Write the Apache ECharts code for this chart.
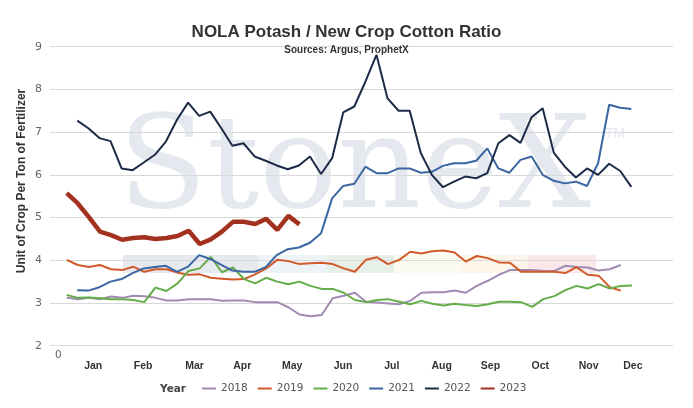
<!DOCTYPE html>
<html>
<head>
<meta charset="utf-8">
<script src="https://cdn.jsdelivr.net/npm/echarts@6/dist/echarts.min.js"></script>
<style>
  html, body { margin: 0; padding: 0; background: #fff; }
  #chart { width: 693px; height: 408px; }
</style>
</head>
<body>
<div id="chart"></div>
<script>
// weekly ratio values
var years = ['2018', '2019', '2020', '2021', '2022', '2023'];
var colors = ['#a08bb3', '#d2592a', '#63ad48', '#3b66a2', '#1c2b46', '#a3311f'];

// first week of each series on the x axis (weeks from 0)
var startWeek = [0.76, 0.76, 0.76, 1.71, 1.71, 0.76];

var v2018 = [3.13, 3.09, 3.12, 3.09, 3.15, 3.12, 3.17, 3.16, 3.12, 3.06, 3.06, 3.09, 3.09, 3.09, 3.05,
  3.06, 3.06, 3.02, 3.02, 3.02, 2.90, 2.73, 2.69, 2.72, 3.11, 3.17, 3.24, 3.03, 3.01, 2.99,
  2.97, 3.05, 3.24, 3.25, 3.25, 3.29, 3.24, 3.40, 3.52, 3.66, 3.77, 3.77, 3.77, 3.75, 3.75,
  3.87, 3.84, 3.83, 3.76, 3.79, 3.89];
var v2019 = [4.01, 3.89, 3.84, 3.89, 3.79, 3.77, 3.85, 3.73, 3.79, 3.79, 3.71, 3.66, 3.67, 3.59, 3.57,
  3.55, 3.56, 3.67, 3.81, 4.01, 3.98, 3.91, 3.93, 3.94, 3.91, 3.81, 3.73, 4.01, 4.07, 3.91,
  4.01, 4.20, 4.16, 4.21, 4.23, 4.18, 3.97, 4.10, 4.05, 3.95, 3.94, 3.73, 3.73, 3.73, 3.73,
  3.70, 3.84, 3.66, 3.64, 3.37, 3.29];
var v2020 = [3.19, 3.12, 3.13, 3.11, 3.09, 3.09, 3.07, 3.02, 3.36, 3.28, 3.46, 3.75, 3.81, 4.08, 3.72,
  3.83, 3.56, 3.46, 3.59, 3.50, 3.44, 3.50, 3.40, 3.33, 3.33, 3.24, 3.07, 3.02, 3.07, 3.09,
  3.03, 2.97, 3.05, 2.98, 2.94, 2.98, 2.95, 2.93, 2.97, 3.03, 3.03, 3.02, 2.91, 3.09, 3.16,
  3.30, 3.40, 3.34, 3.44, 3.34, 3.40, 3.41];
var v2021 = [3.30, 3.29, 3.37, 3.50, 3.56, 3.70, 3.81, 3.84, 3.87, 3.73, 3.85, 4.12, 4.03, 3.89, 3.76,
  3.73, 3.73, 3.84, 4.12, 4.26, 4.30, 4.41, 4.63, 5.45, 5.74, 5.79, 6.19, 6.04, 6.04, 6.15,
  6.15, 6.05, 6.07, 6.21, 6.27, 6.27, 6.33, 6.62, 6.15, 6.05, 6.35, 6.43, 6.00, 5.86, 5.80,
  5.84, 5.74, 6.27, 7.64, 7.57, 7.54];
var v2022 = [7.27, 7.09, 6.86, 6.79, 6.15, 6.11, 6.29, 6.47, 6.78, 7.29, 7.69, 7.38, 7.48, 7.09, 6.68,
  6.74, 6.43, 6.33, 6.22, 6.13, 6.22, 6.43, 6.02, 6.39, 7.46, 7.60, 8.18, 8.81, 7.79, 7.50,
  7.50, 6.51, 6.00, 5.71, 5.84, 5.96, 5.92, 6.04, 6.74, 6.93, 6.75, 7.35, 7.56, 6.52, 6.19,
  5.94, 6.15, 6.00, 6.26, 6.09, 5.72];
var v2023 = [5.57, 5.33, 5.01, 4.67, 4.59, 4.48, 4.52, 4.54, 4.50, 4.52, 4.57, 4.69, 4.38, 4.49, 4.67,
  4.90, 4.90, 4.85, 4.97, 4.71, 5.04, 4.84];

var values = [v2018, v2019, v2020, v2021, v2022, v2023];

// month labels sit at these week positions
var months = ['Jan', 'Feb', 'Mar', 'Apr', 'May', 'Jun', 'Jul', 'Aug', 'Sep', 'Oct', 'Nov', 'Dec'];
var monthWeek = [3.15, 7.65, 12.3, 16.6, 21.1, 25.7, 30.1, 34.6, 39.0, 43.5, 47.85, 51.85];

var yTicks = [2, 3, 4, 5, 6, 7, 8, 9];

// watermark logo band colours
var bandColors = ['#e6e9ee', '#eef3f8', '#e7efe9', '#fafbee', '#fcf6ea', '#f9e7ea'];

var myChart = echarts.init(document.getElementById('chart'));

var series = [];
for (var s = 0; s < years.length; s++) {
    var pts = [];
    for (var i = 0; i < values[s].length; i++) {
        pts.push([startWeek[s] + i, values[s][i]]);
    }
    series.push({
        name: years[s],
        type: 'line',
        data: pts,
        showSymbol: false,
        symbol: 'none',
        silent: true,
        lineStyle: { width: years[s] == '2023' ? 4.5 : 2, color: colors[s] },
        itemStyle: { color: colors[s] },
        z: years[s] == '2023' ? 3 : 2
    });
}

// logo band behind the lines
var graphics = [];
var bandX = [123, 258, 327, 394, 462, 528, 596];
for (var b = 0; b < bandColors.length; b++) {
    graphics.push({
        type: 'rect', z: -10, silent: true,
        shape: { x: bandX[b], y: 255, width: bandX[b + 1] - bandX[b], height: 18 },
        style: { fill: bandColors[b] }
    });
}
graphics.push({
    type: 'text', z: -9, silent: true, left: 118, top: 108,
    style: { text: 'StoneX', font: '130px "DejaVu Serif"', fill: '#e5e8ee' }
});
graphics.push({
    type: 'text', z: -9, silent: true, left: 605, top: 127,
    style: { text: 'TM', font: '14px "Liberation Sans"', fill: '#e5e8ee' }
});
graphics.push({
    type: 'text', silent: true, x: 22, y: 181, rotation: Math.PI / 2,
    style: { text: 'Unit of Crop Per Ton of Fertilizer', font: 'bold 12px "Liberation Sans"',
        fill: '#333', align: 'center', verticalAlign: 'middle' }
});
graphics.push({
    type: 'text', silent: true, left: 160, top: 384,
    style: { text: 'Year', font: 'bold 10.5px "DejaVu Sans"', fill: '#444' }
});

var option = {
    animation: false,
    title: {
        text: 'NOLA Potash / New Crop Cotton Ratio',
        subtext: 'Sources: Argus, ProphetX',
        left: 'center',
        top: 19,
        itemGap: 4,
        textStyle: { fontFamily: 'Liberation Sans', fontSize: 17, fontWeight: 'bold', color: '#333' },
        subtextStyle: { fontFamily: 'Liberation Sans', fontSize: 10, fontWeight: 'bold', color: '#333' }
    },
    legend: {
        data: years,
        left: 202,
        top: 383,
        padding: 0,
        icon: 'rect',
        itemWidth: 14,
        itemHeight: 2,
        itemGap: 10,
        textStyle: { fontFamily: 'DejaVu Sans', fontSize: 10.5, color: '#555' }
    },
    grid: { left: 50, right: 20, top: 46.7, bottom: 62.3 },
    xAxis: [
        {
            type: 'value', min: -0.75, max: 55.47,
            axisLine: { show: false }, axisTick: { show: false }, splitLine: { show: false },
            axisLabel: { customValues: [0], color: '#666', fontFamily: 'DejaVu Sans', fontSize: 10.5, margin: 4 }
        },
        {
            type: 'value', min: -0.75, max: 55.47, position: 'bottom',
            axisLine: { show: false }, axisTick: { show: false }, splitLine: { show: false },
            axisLabel: {
                customValues: monthWeek,
                margin: 15,
                color: '#333', fontFamily: 'Liberation Sans', fontSize: 10.5, fontWeight: 'bold',
                formatter: function (v) {
                    var k = monthWeek.indexOf(v);
                    return k >= 0 ? months[k] : '';
                }
            }
        }
    ],
    yAxis: {
        type: 'value', min: yTicks[0], max: yTicks[yTicks.length - 1], interval: 1,
        axisLine: { show: false }, axisTick: { show: false },
        axisLabel: { color: '#666', fontFamily: 'DejaVu Sans', fontSize: 11, margin: 8 },
        splitLine: { lineStyle: { color: '#d9d9d9', width: 1 } }
    },
    graphic: graphics,
    series: series
};

myChart.setOption(option);
</script>
</body>
</html>
